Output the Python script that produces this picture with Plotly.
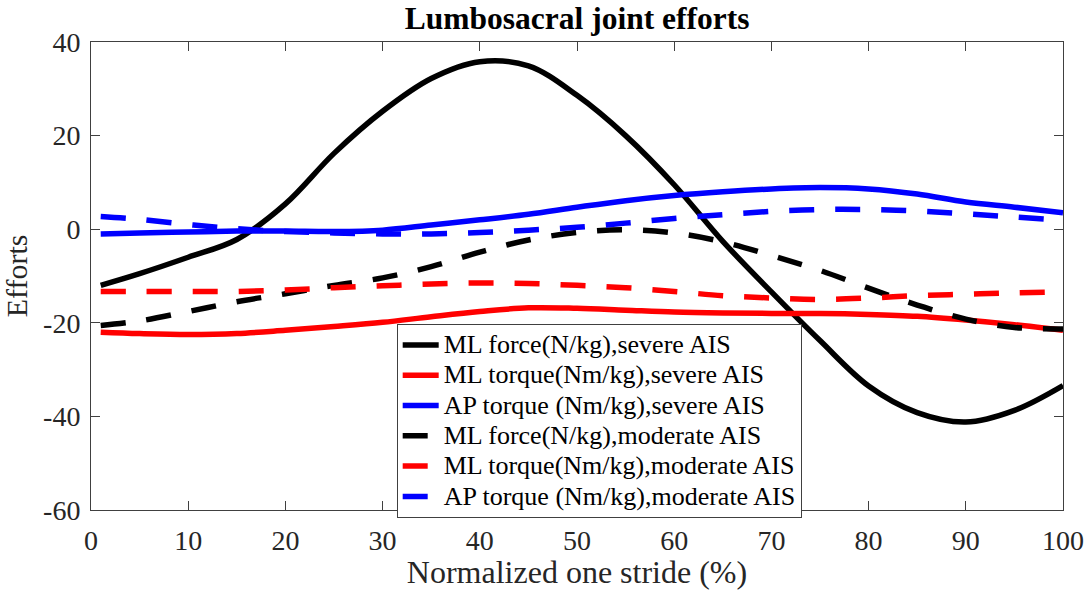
import plotly.graph_objects as go

# Normalized stride (%) sampling points
stride = [1, 5, 10, 15, 20, 25, 30, 35, 40, 45, 50, 55, 60, 65, 70, 75, 80, 85, 90, 95, 100]

# Severe AIS
ml_force_severe = [-12.0, -9.5, -6.0, -2.2, 5.4, 16.2, 25.2, 32.2, 35.8, 34.9, 28.6, 20.0, 9.5,
                   -2.6, -13.4, -23.8, -33.5, -39.2, -41.2, -38.7, -33.4]
ml_torque_severe = [-22.0, -22.3, -22.5, -22.3, -21.6, -20.8, -19.9, -18.7, -17.6, -16.8, -16.9,
                    -17.3, -17.7, -17.9, -18.0, -18.0, -18.2, -18.6, -19.4, -20.4, -21.6]
ap_torque_severe = [-1.0, -0.8, -0.6, -0.4, -0.4, -0.5, -0.2, 0.9, 2.0, 3.2, 4.7, 6.1, 7.2,
                    8.0, 8.6, 8.9, 8.6, 7.5, 5.8, 4.7, 3.5]

# Moderate AIS
ml_force_moderate = [-20.6, -19.6, -17.6, -15.5, -13.8, -12.0, -10.4, -8.0, -4.9, -2.3, -0.7,
                     -0.1, -0.8, -2.7, -5.6, -8.8, -12.6, -16.2, -19.2, -21.0, -21.3]
ml_torque_moderate = [-13.3, -13.3, -13.3, -13.3, -13.0, -12.5, -12.1, -11.7, -11.5, -11.6, -12.0,
                      -12.5, -13.3, -14.2, -14.7, -15.0, -14.7, -14.2, -13.9, -13.6, -13.4]
ap_torque_moderate = [2.7, 2.1, 1.0, 0.1, -0.5, -0.8, -1.0, -1.0, -0.7, -0.2, 0.4, 1.3, 2.3,
                      3.1, 3.8, 4.2, 4.2, 3.9, 3.3, 2.6, 1.9]

series = [
    ("ML force(N/kg),severe AIS", ml_force_severe, "black", "solid"),
    ("ML torque(Nm/kg),severe AIS", ml_torque_severe, "red", "solid"),
    ("AP torque (Nm/kg),severe AIS", ap_torque_severe, "blue", "solid"),
    ("ML force(N/kg),moderate AIS", ml_force_moderate, "black", "25px,21px"),
    ("ML torque(Nm/kg),moderate AIS", ml_torque_moderate, "red", "25px,21px"),
    ("AP torque (Nm/kg),moderate AIS", ap_torque_moderate, "blue", "25px,21px"),
]

x_ticks = list(range(0, 101, 10))
y_ticks = [-60, -40, -20, 0, 20, 40]
y_ticktext = [str(v) for v in y_ticks]

FONT = "Liberation Serif, Times New Roman, serif"
AXIS = "#404040"
TEXT = "#262626"

fig = go.Figure()
for name, vals, color, dash in series:
    fig.add_trace(go.Scatter(
        x=stride, y=vals, mode="lines",
        name=f'<span style="font-size:26px">{name}</span>',
        line=dict(color=color, width=5.5, dash=dash, shape="spline", smoothing=1.0),
    ))

axis_common = dict(
    showline=True, linecolor=AXIS, linewidth=1, mirror="ticks",
    ticks="inside", ticklen=9, tickcolor=AXIS, tickwidth=1,
    showgrid=False, zeroline=False, automargin=False,
    tickfont=dict(family=FONT, size=28, color=TEXT),
)

fig.update_xaxes(
    range=[0, 100], tickvals=x_ticks, ticklabelstandoff=5,
    title=dict(text="Normalized one stride (%)", font=dict(family=FONT, size=32, color=TEXT),
               standoff=5),
    **axis_common,
)
fig.update_yaxes(
    range=[-60, 40], tickvals=y_ticks, ticktext=y_ticktext,
    title=dict(text="Efforts", font=dict(family=FONT, size=30, color=TEXT), standoff=6),
    ticklabelstandoff=4,
    **axis_common,
)

fig.update_layout(
    width=1089, height=590,
    margin=dict(l=91, r=26, t=41.5, b=80.3),
    plot_bgcolor="white", paper_bgcolor="white",
    title=dict(text="<b>Lumbosacral joint efforts</b>", x=0.53, xanchor="center",
               y=0.97, yanchor="middle",
               font=dict(family=FONT, size=31.5, color="black")),
    showlegend=True,
    legend=dict(
        x=0.3145, y=0.398, xanchor="left", yanchor="top",
        bgcolor="white", bordercolor=AXIS, borderwidth=1,
        font=dict(family=FONT, size=21, color="black"),
        traceorder="normal", tracegroupgap=0, itemwidth=36,
    ),
)

fig.write_html("out.html")
